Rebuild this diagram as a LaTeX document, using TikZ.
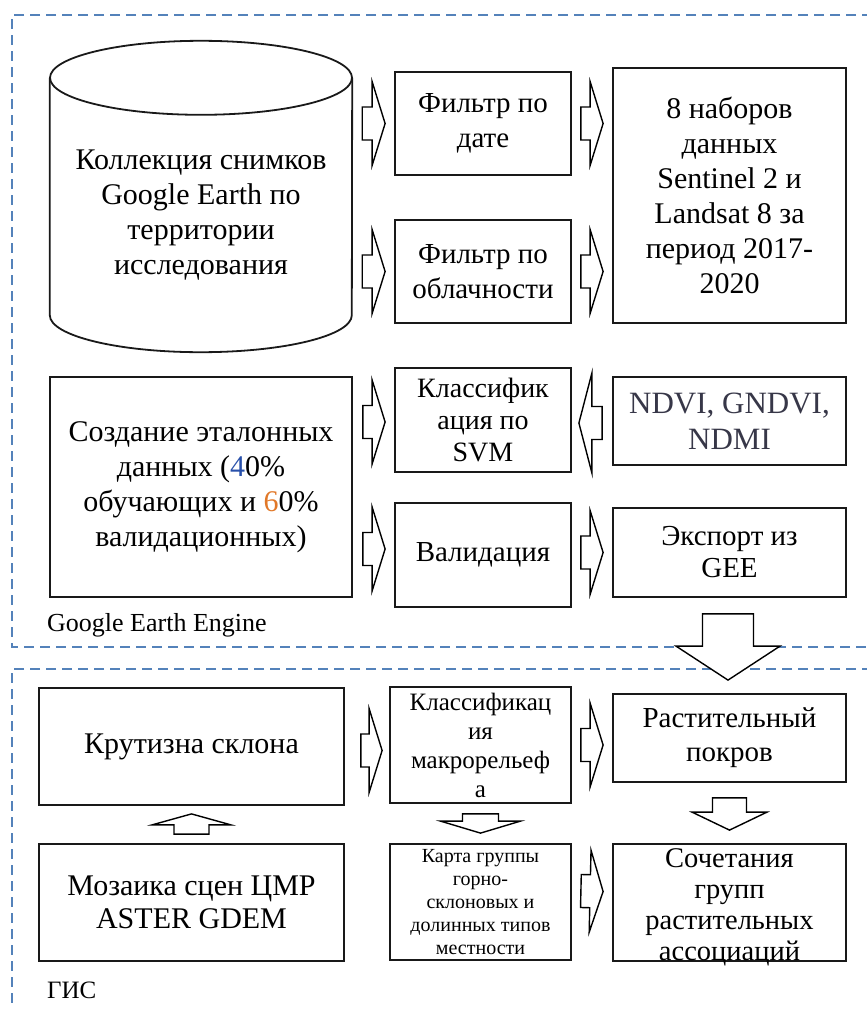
\documentclass[tikz,border=0pt]{standalone}
\usepackage{fontspec}
\setmainfont{Liberation Serif}
\usetikzlibrary{calc}
\definecolor{frameblue}{RGB}{84,130,186}
\definecolor{boxline}{RGB}{25,25,25}
\definecolor{ndvitext}{RGB}{55,55,72}
\definecolor{numblue}{RGB}{40,80,170}
\definecolor{numorange}{RGB}{225,120,40}
\newcommand\blockarrow[5]{%
  \coordinate (bab) at ($(#2)!#5!(#1)$);
  \draw[blockarr] ($(#1)!#3!90:(#2)$) -- ($(bab)!#3!90:(#2)$) -- ($(bab)!#4!90:(#2)$) -- (#2)
    -- ($(bab)!#4!-90:(#2)$) -- ($(bab)!#3!-90:(#2)$) -- ($(#1)!#3!-90:(#2)$) -- cycle;}
\begin{document}
\begin{tikzpicture}[x=1pt,y=-1pt,
  box/.style={draw=boxline, line width=1.8pt, inner sep=0pt, align=center},
  blockarr/.style={draw=black, line width=1.4pt, fill=white, line join=miter},
  dashframe/.style={draw=frameblue, line width=2pt, dash pattern=on 10pt off 6pt},
  lbl/.style={inner sep=0pt, anchor=west}
]
\useasboundingbox (0,0) rectangle (867,1009);
% frames
\draw[dashframe] (872,15) -- (12,15) -- (12,647) -- (872,647);
\draw[dashframe] (872,669) -- (12,669) -- (12,1015);
\node[lbl, font=\fontsize{26}{30}\selectfont] (gee) at (47,625) {Google Earth Engine};
\node[lbl, font=\fontsize{25}{30}\selectfont] (gis) at (47,990) {ГИС};
% top block
\node[inner sep=0pt, minimum width=302pt, minimum height=274pt, align=center,
      font=\fontsize{30}{35}\selectfont] (cyl) at (201,215)
      {Коллекция снимков\\Google Earth по\\территории\\исследования};
\draw[boxline, line width=1.8pt] (cyl.north) ellipse[x radius=151pt, y radius=37pt];
\draw[boxline, line width=1.8pt] (cyl.north west) -- ([yshift=37pt]cyl.south west)
   arc[start angle=180, end angle=360, x radius=151pt, y radius=37pt] -- (cyl.north east);
\node[box, minimum width=176pt, minimum height=103pt, font=\fontsize{29}{35}\selectfont]
   (f1) at (483,123.5) {Фильтр по\\дате};
\node[box, minimum width=176pt, minimum height=103pt, font=\fontsize{29}{35}\selectfont]
   (f2) at (483,271.5) {Фильтр по\\облачности};
\node[box, minimum width=233pt, minimum height=255pt, font=\fontsize{30}{35}\selectfont]
   (nab) at (729.5,195.5) {8 наборов\\данных\\Sentinel 2 и\\Landsat 8 за\\период 2017-\\2020};
% second block
\node[box, minimum width=302pt, minimum height=220pt, font=\fontsize{30}{35}\selectfont]
   (sozd) at (201,487) {Создание эталонных\\данных (\textcolor{numblue}{4}0\%\\обучающих и \textcolor{numorange}{6}0\%\\валидационных)};
\node[box, minimum width=176pt, minimum height=104pt, font=\fontsize{28}{32}\selectfont]
   (klass) at (483,420) {Классифик\\ация по\\SVM};
\node[box, minimum width=233pt, minimum height=88pt, font=\fontsize{31}{36}\selectfont, text=ndvitext]
   (ndvi) at (729.5,421) {NDVI, GNDVI,\\NDMI};
\node[box, minimum width=176pt, minimum height=104pt, font=\fontsize{29}{34}\selectfont]
   (valid) at (483,555) {Валидация};
\node[box, minimum width=233pt, minimum height=89pt, font=\fontsize{29}{32}\selectfont]
   (exp) at (729.5,552.5) {Экспорт из\\GEE};
% GIS block
\node[box, minimum width=305pt, minimum height=117pt, font=\fontsize{30}{35}\selectfont]
   (krut) at (191.5,746.5) {Крутизна склона};
\node[box, minimum width=181pt, minimum height=116pt, font=\fontsize{25}{29}\selectfont]
   (klm) at (480.5,745) {Классификац\\ия\\макрорельеф\\а};
\node[box, minimum width=233pt, minimum height=88pt, font=\fontsize{29}{34}\selectfont]
   (rast) at (729.5,738) {Растительный\\покров};
\node[box, minimum width=305pt, minimum height=117pt, font=\fontsize{30}{33}\selectfont]
   (moz) at (191.5,902.5) {Мозаика сцен ЦМР\\ASTER GDEM};
\node[box, minimum width=181pt, minimum height=116pt, font=\fontsize{20}{23}\selectfont]
   (karta) at (480.5,902) {Карта группы\\горно-\\склоновых и\\долинных типов\\местности};
\node[box, minimum width=233pt, minimum height=117pt,
   label={[inner sep=0pt, align=center, font=\fontsize{28.5}{31}\selectfont, yshift=-5pt]center:{Сочетания\\групп\\растительных\\ассоциаций}}]
   (soch) at (729.5,902.5) {};
% arrows
\coordinate (a1s) at ($(cyl.east|-f1.center)+(10,0)$);
\coordinate (a1e) at ($(f1.west)+(-9,0)$);
\blockarrow{a1s}{a1e}{16.5pt}{42pt}{13pt}
\coordinate (a2s) at ($(cyl.east|-f2.center)+(10,0)$);
\coordinate (a2e) at ($(f2.west)+(-9,0)$);
\blockarrow{a2s}{a2e}{16.5pt}{42pt}{13pt}
\coordinate (a3s) at ($(f1.east)+(9,0)$);
\coordinate (a3e) at ($(nab.west|-f1.center)+(-9,0)$);
\blockarrow{a3s}{a3e}{16.5pt}{42pt}{13pt}
\coordinate (a4s) at ($(f2.east)+(9,0)$);
\coordinate (a4e) at ($(nab.west|-f2.center)+(-9,0)$);
\blockarrow{a4s}{a4e}{16.5pt}{42pt}{13pt}
\coordinate (a5s) at ($(sozd.east|-klass.center)+(10,2)$);
\coordinate (a5e) at ($(klass.west)+(-9,2)$);
\blockarrow{a5s}{a5e}{16.5pt}{42pt}{13pt}
\coordinate (a6s) at ($(sozd.east|-valid.center)+(10,-6)$);
\coordinate (a6e) at ($(valid.west)+(-9,-6)$);
\blockarrow{a6s}{a6e}{16.5pt}{42pt}{13pt}
\coordinate (a7s) at ($(ndvi.west)+(-10,2)$);
\coordinate (a7e) at ($(klass.east|-ndvi.west)+(7,2)$);
\blockarrow{a7s}{a7e}{16.5pt}{50pt}{13pt}
\coordinate (a8s) at ($(valid.east|-exp.center)+(9,0)$);
\coordinate (a8e) at ($(exp.west)+(-9,0)$);
\blockarrow{a8s}{a8e}{16.5pt}{42pt}{13pt}
\coordinate (a9s) at ($(exp.south)+(-1.5,16)$);
\coordinate (a9e) at ($(rast.north)+(-1.5,-13)$);
\blockarrow{a9s}{a9e}{25.5pt}{52pt}{34pt}
\coordinate (a10s) at ($(krut.east)+(16,4)$);
\coordinate (a10e) at ($(klm.west|-krut.east)+(-7,4)$);
\blockarrow{a10s}{a10e}{16.5pt}{42pt}{13pt}
\coordinate (a11s) at ($(klm.east)+(9,0)$);
\coordinate (a11e) at ($(rast.west|-klm.east)+(-9,0)$);
\blockarrow{a11s}{a11e}{16.5pt}{42pt}{13pt}
\coordinate (a12s) at ($(moz.north)+(0,-9)$);
\coordinate (a12e) at ($(krut.south)+(0,8)$);
\blockarrow{a12s}{a12e}{17.5pt}{39.5pt}{11pt}
\coordinate (a13s) at ($(klm.south)+(0,10)$);
\coordinate (a13e) at ($(karta.north)+(0,-10)$);
\blockarrow{a13s}{a13e}{18pt}{40pt}{12pt}
\coordinate (a14s) at ($(rast.south)+(0,15)$);
\coordinate (a14e) at ($(soch.north)+(0,-13)$);
\blockarrow{a14s}{a14e}{17pt}{37.5pt}{18pt}
\coordinate (a15s) at ($(karta.east)+(9,-11)$);
\coordinate (a15e) at ($(soch.west)+(-9,-11)$);
\blockarrow{a15s}{a15e}{16.5pt}{41pt}{13pt}
\end{tikzpicture}
\end{document}
